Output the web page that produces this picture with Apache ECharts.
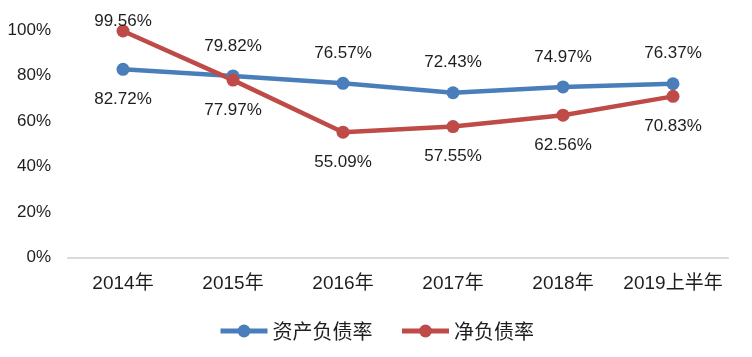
<!DOCTYPE html>
<html><head><meta charset="utf-8">
<script src="https://cdn.jsdelivr.net/npm/echarts@6/dist/echarts.min.js"></script>
<style>html,body{margin:0;padding:0;background:#fff}#c{width:752px;height:357px}</style>
</head><body><div id="c"></div>
<script>
const categories = ['2014年','2015年','2016年','2017年','2018年','2019上半年'];
const assetDebt = [82.72, 79.82, 76.57, 72.43, 74.97, 76.37];
const netDebt = [99.56, 77.97, 55.09, 57.55, 62.56, 70.83];
const yTicks = [0, 20, 40, 60, 80, 100];
const assetLabelPos = ['bottom','top','top','top','top','top'];
const netLabelPos = ['top','bottom','bottom','bottom','bottom','bottom'];
const FONT = '"Liberation Sans", "Noto Sans CJK SC", sans-serif';
const TXT = '#1e1e1e';
const BLUE = '#4a7ebb', RED = '#be4b48';
function mk(vals, pos, special) {
  return vals.map((v, i) => ({
    value: v,
    label: {
      show: true, position: pos[i], fontFamily: FONT, fontSize: 17, color: TXT,
      distance: (special && special[i] !== undefined) ? special[i] : 15,
      formatter: p => p.value.toFixed(2) + '%'
    }
  }));
}
const chart = echarts.init(document.getElementById('c'));
chart.setOption({
  animation: false,
  grid: {left: 68, right: 24, top: 30, bottom: 99.5},
  legend: {
    top: 316, left: 'center', itemWidth: 47, itemHeight: 16, itemGap: 27,
    textStyle: {fontFamily: '"Noto Sans CJK SC", sans-serif', fontSize: 20, color: TXT},
    data: [
      {name: '资产负债率', lineStyle: {width: 5, color: BLUE}},
      {name: '净负债率', lineStyle: {width: 5, color: RED}}
    ]
  },
  xAxis: {
    type: 'category', data: categories,
    axisLine: {lineStyle: {color: '#d9d9d9', width: 2}},
    axisTick: {show: false},
    axisLabel: {fontFamily: FONT, fontSize: 19, color: TXT, margin: 17, interval: 0}
  },
  yAxis: {
    type: 'value', min: 0, max: 100, interval: 20,
    axisLine: {show: false}, axisTick: {show: false}, splitLine: {show: false},
    axisLabel: {fontFamily: FONT, fontSize: 17, color: TXT, margin: 17, formatter: v => v + '%'}
  },
  series: [
    {name: '资产负债率', type: 'line', data: mk(assetDebt, assetLabelPos), symbol: 'circle', symbolSize: 13,
     lineStyle: {width: 4.5, color: BLUE}, itemStyle: {color: BLUE}},
    {name: '净负债率', type: 'line', data: mk(netDebt, netLabelPos, {0: -5}), symbol: 'circle', symbolSize: 13,
     lineStyle: {width: 4.5, color: RED}, itemStyle: {color: RED}}
  ]
});
</script></body></html>
